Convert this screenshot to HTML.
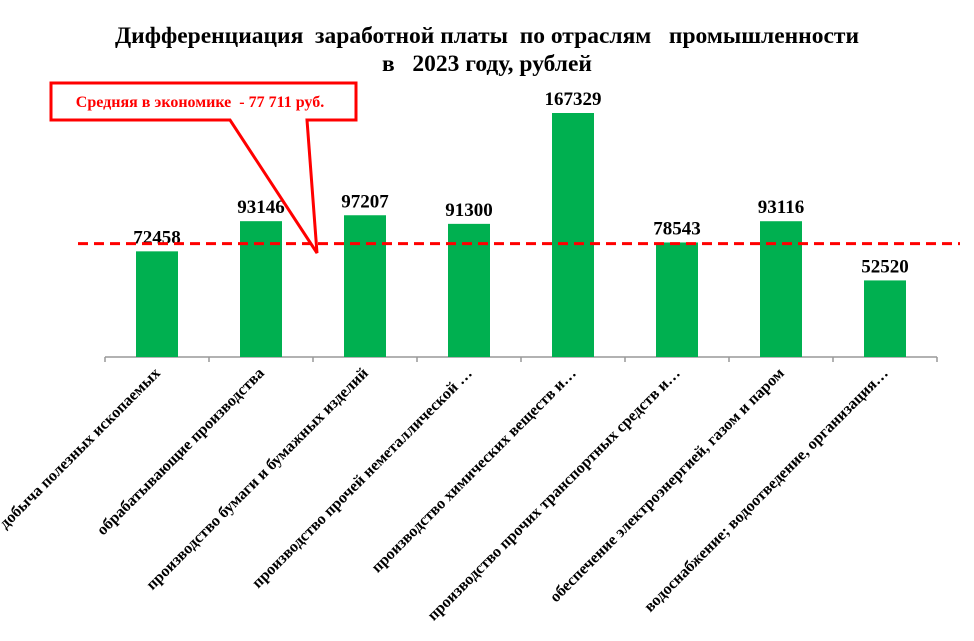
<!DOCTYPE html>
<html><head><meta charset="utf-8"><style>
body{margin:0;background:#fff;}
svg{display:block;font-family:"Liberation Serif","Noto Serif CJK SC",serif;}
</style></head><body>
<svg width="974" height="641" viewBox="0 0 974 641">
<text x="487" y="43" text-anchor="middle" font-size="23.5" font-weight="bold" xml:space="preserve">Дифференциация  заработной платы  по отраслям   промышленности</text>
<text x="487" y="71" text-anchor="middle" font-size="23.5" font-weight="bold" xml:space="preserve">в   2023 году, рублей</text>
<g id="plot"></g>
<g>
<path d="M51,83 L356,83 L356,120 L307,120 L317,253 L230,120 L51,120 Z" fill="#fff" stroke="#f00" stroke-width="3" stroke-linejoin="miter"/>
<text x="200" y="107" text-anchor="middle" font-size="16" font-weight="bold" fill="#f00" xml:space="preserve">Средняя в экономике  - 77 711 руб.</text>
</g>
</svg>
<script>
const categories=["добыча полезных ископаемых","обрабатывающие  производства","производство бумаги и бумажных изделий","производство прочей неметаллической …","производство химических веществ и…","производство прочих транспортных  средств и…","обеспечение   электроэнергией,  газом и  паром","водоснабжение; водоотведение, организация…"];
const values=[72458,93146,97207,91300,167329,78543,93116,52520];
const average=[77711];
const NS="http://www.w3.org/2000/svg";
const g=document.getElementById('plot');
const x0=105,step=104,baseY=357,scale=244/167329,barW=42;
const xc=i=>x0+step*i+step/2;
const y=v=>baseY-v*scale;
function mk(t,a){const e=document.createElementNS(NS,t);for(const k in a)e.setAttribute(k,a[k]);return e;}
const ax=mk('line',{x1:x0,y1:baseY,x2:x0+step*categories.length,y2:baseY,stroke:'#999','stroke-width':1.5});


g.appendChild(ax);
for(let i=0;i<=categories.length;i++){
const t=mk('line',{x1:x0+step*i,y1:baseY,x2:x0+step*i,y2:baseY+5,stroke:'#999','stroke-width':1.5});


g.appendChild(t);}
values.forEach((v,i)=>{
const r=mk('rect',{x:xc(i)-barW/2,y:y(v),width:barW,height:baseY-y(v),fill:'#00b050'});


g.appendChild(r);
const tl=mk('text',{x:xc(i),y:y(v)-8,'text-anchor':'middle','font-size':19,'font-weight':'bold'});
tl.textContent=v;


g.appendChild(tl);
const cl=mk('text',{x:0,y:0,'text-anchor':'end','font-size':16,'font-weight':'bold',transform:`translate(${xc(i)+4},${baseY+17}) rotate(-45)`});
cl.setAttribute('xml:space','preserve');
cl.textContent=categories[i];


g.appendChild(cl);
});
const al=mk('line',{x1:78,y1:y(average[0]),x2:960,y2:y(average[0]),stroke:'#f00','stroke-width':3,'stroke-dasharray':'10 6'});


g.appendChild(al);
</script>
</body></html>
